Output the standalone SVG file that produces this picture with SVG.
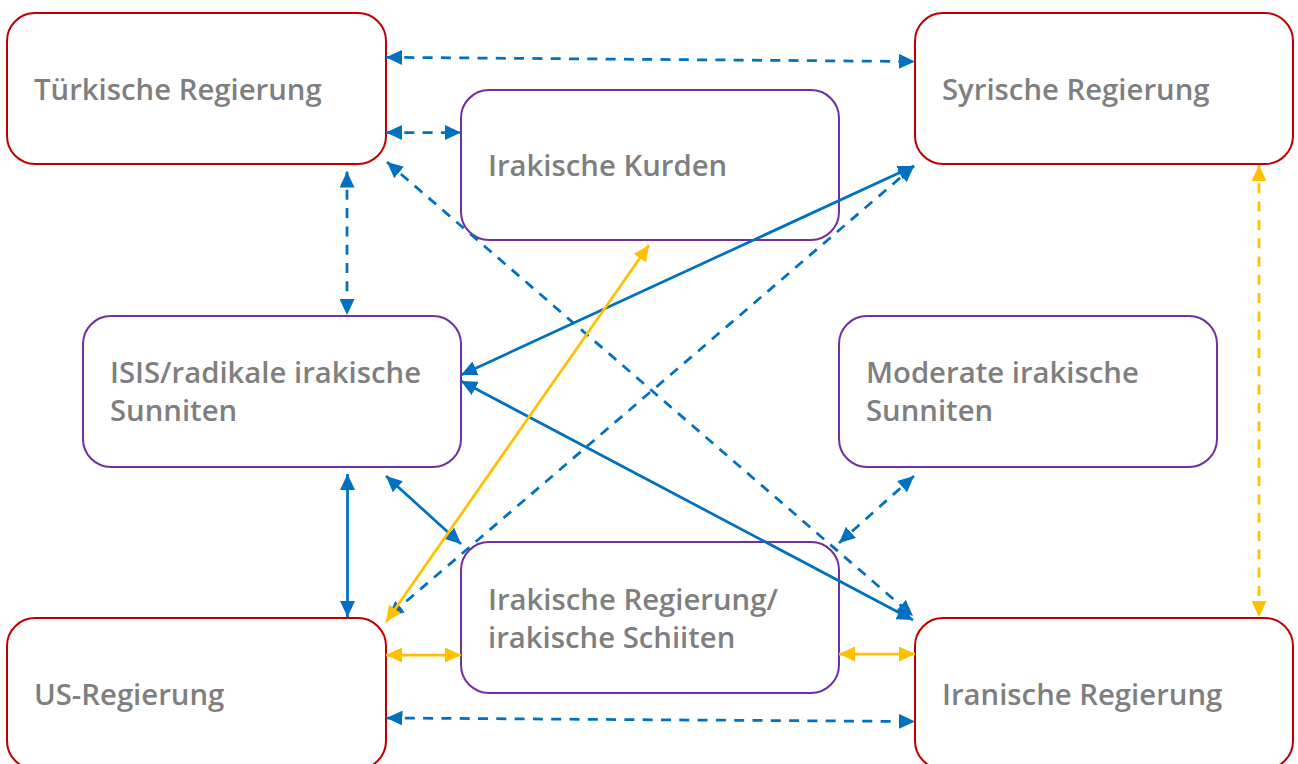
<svg xmlns="http://www.w3.org/2000/svg" width="1298" height="764" viewBox="0 0 1298 764">
<style>
.box{fill:#fff;stroke-width:2}
.gov{stroke:#C00000}
.grp{stroke:#7030A0}
.lbl{font-family:"Open Sans","Liberation Sans",sans-serif;font-weight:600;font-size:29.3px;fill:#7F7F7F}
.c{fill:none;stroke-width:2.75}
.b{stroke:#0070C0}
.y{stroke:#FFC000}
.d{stroke-dasharray:10 8.3}
.b{marker-start:url(#ab);marker-end:url(#ab)}
.y{marker-start:url(#ay);marker-end:url(#ay)}
</style>
<defs>
<marker id="ab" viewBox="0 0 16 15" refX="16" refY="7.5" markerWidth="16" markerHeight="15" markerUnits="userSpaceOnUse" orient="auto-start-reverse"><path d="M0,0L16,7.5L0,15z" fill="#0070C0"/></marker>
<marker id="ay" viewBox="0 0 16 15" refX="16" refY="7.5" markerWidth="16" markerHeight="15" markerUnits="userSpaceOnUse" orient="auto-start-reverse"><path d="M0,0L16,7.5L0,15z" fill="#FFC000"/></marker>
</defs>
<rect width="1298" height="764" fill="#fff"/>
<g id="tuerkei"><rect class="box gov" x="7" y="13" width="379" height="151" rx="28"/><text class="lbl" x="34" y="100">Türkische Regierung</text></g>
<g id="kurden"><rect class="box grp" x="461" y="90" width="378" height="150" rx="28"/><text class="lbl" x="488" y="176">Irakische Kurden</text></g>
<g id="syrien"><rect class="box gov" x="915" y="13" width="378" height="151" rx="28"/><text class="lbl" x="942" y="100">Syrische Regierung</text></g>
<g id="isis"><rect class="box grp" x="83" y="316" width="378" height="151" rx="28"/><text class="lbl" x="110" y="383">ISIS/radikale irakische</text><text class="lbl" x="110" y="421">Sunniten</text></g>
<g id="moderate"><rect class="box grp" x="839" y="316" width="378" height="151" rx="28"/><text class="lbl" x="866" y="383">Moderate irakische</text><text class="lbl" x="866" y="421">Sunniten</text></g>
<g id="irak"><rect class="box grp" x="461" y="542" width="378" height="151" rx="28"/><text class="lbl" x="488" y="610">Irakische Regierung/</text><text class="lbl" x="488" y="648">irakische Schiiten</text></g>
<g id="usa"><rect class="box gov" x="7" y="618" width="379" height="151" rx="28"/><text class="lbl" x="34" y="705">US-Regierung</text></g>
<g id="iran"><rect class="box gov" x="915" y="618" width="378" height="151" rx="28"/><text class="lbl" x="942" y="705">Iranische Regierung</text></g>
<g id="connectors">
<path class="c b d" d="M386,57.3L915,61.5"/>
<path class="c b d" d="M386,132.5L461,132.5"/>
<path class="c b d" d="M347,171.5L347,315"/>
<path class="c b d" d="M387,162L913,616"/>
<path class="c b" d="M914,166L461,375"/>
<path class="c b d" d="M914,166L388,617"/>
<path class="c b" d="M461,381L913,620"/>
<path class="c b" d="M347.5,474L347.5,617"/>
<path class="c b" d="M386,476L461,544"/>
<path class="c y" d="M649,245L386,622"/>
<path class="c b d" d="M914,476L839,543"/>
<path class="c y" d="M386,655L461,655"/>
<path class="c y" d="M839,654L915,654"/>
<path class="c b d" d="M386.5,718L915,721.5"/>
<path class="c y d" d="M1259,165L1259,617"/>
</g>
</svg>
